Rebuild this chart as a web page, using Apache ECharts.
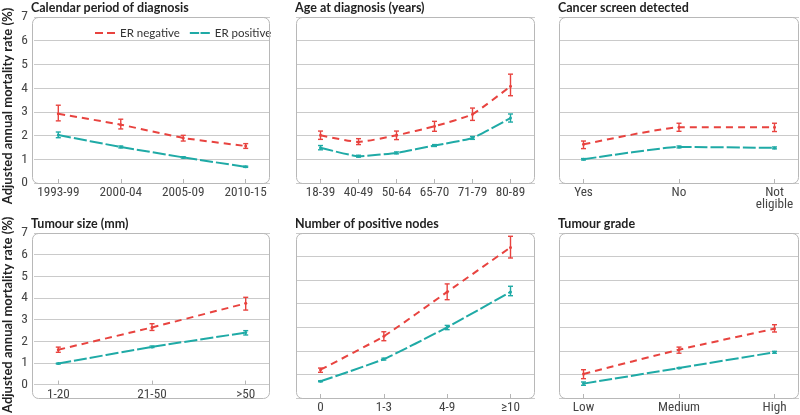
<!DOCTYPE html>
<html>
<head>
<meta charset="utf-8">
<script src="https://cdn.jsdelivr.net/npm/echarts@6/dist/echarts.min.js"></script>
<style>html,body{margin:0;padding:0;background:#fff}#c{width:800px;height:415px}</style>
</head>
<body>
<div id="c"></div>
<script>
// ---- data ----
const titles = ['Calendar period of diagnosis','Age at diagnosis (years)','Cancer screen detected','Tumour size (mm)','Number of positive nodes','Tumour grade'];
const yTitle = 'Adjusted annual mortality rate (%)';
const seriesNames = ['ER negative','ER positive'];

const periodCats = ['1993-99','2000-04','2005-09','2010-15'];
const periodNeg = [2.92, 2.46, 1.90, 1.56];
const periodNegLo = [2.62, 2.28, 1.77, 1.46];
const periodNegHi = [3.28, 2.69, 2.01, 1.66];
const periodPos = [2.02, 1.52, 1.08, 0.68];
const periodPosLo = [1.91, 1.48, 1.05, 0.66];
const periodPosHi = [2.15, 1.56, 1.11, 0.71];

const ageCats = ['18-39','40-49','50-64','65-70','71-79','80-89'];
const ageNeg = [2.01, 1.73, 2.01, 2.39, 2.90, 4.08];
const ageNegLo = [1.84, 1.62, 1.83, 2.18, 2.64, 3.68];
const ageNegHi = [2.19, 1.87, 2.19, 2.60, 3.16, 4.59];
const agePos = [1.49, 1.13, 1.27, 1.58, 1.90, 2.74];
const agePosLo = [1.40, 1.09, 1.23, 1.54, 1.84, 2.57];
const agePosHi = [1.58, 1.17, 1.31, 1.62, 1.96, 2.91];

const screenCats = ['Yes','No','Not\neligible'];
const screenNeg = [1.63, 2.35, 2.35];
const screenNegLo = [1.45, 2.18, 2.17];
const screenNegHi = [1.77, 2.52, 2.52];
const screenPos = [1.00, 1.52, 1.48];
const screenPosLo = [0.97, 1.48, 1.44];
const screenPosHi = [1.03, 1.56, 1.52];

const sizeCats = ['1-20','21-50','>50'];
const sizeNeg = [1.61, 2.64, 3.75];
const sizeNegLo = [1.49, 2.50, 3.44];
const sizeNegHi = [1.73, 2.81, 4.03];
const sizePos = [0.97, 1.74, 2.40];
const sizePosLo = [0.95, 1.71, 2.29];
const sizePosHi = [0.99, 1.78, 2.49];

const nodeCats = ['0','1-3','4-9','≥10'];
const nodeNeg = [1.20, 2.62, 4.50, 6.39];
const nodeNegLo = [1.09, 2.43, 4.17, 5.94];
const nodeNegHi = [1.27, 2.81, 4.84, 6.86];
const nodePos = [0.71, 1.65, 3.00, 4.50];
const nodePosLo = [0.69, 1.61, 2.90, 4.34];
const nodePosHi = [0.73, 1.69, 3.08, 4.74];

const gradeCats = ['Low','Medium','High'];
const gradeNeg = [1.02, 2.05, 2.94];
const gradeNegLo = [0.82, 1.90, 2.80];
const gradeNegHi = [1.20, 2.16, 3.11];
const gradePos = [0.61, 1.27, 1.94];
const gradePosLo = [0.54, 1.25, 1.90];
const gradePosHi = [0.68, 1.29, 1.98];

const yTicks = [0,1,2,3,4,5,6,7];

// ---- layout / style ----
const panels = [
  {cats: periodCats, neg:[periodNeg,periodNegLo,periodNegHi], pos:[periodPos,periodPosLo,periodPosHi]},
  {cats: ageCats, neg:[ageNeg,ageNegLo,ageNegHi], pos:[agePos,agePosLo,agePosHi]},
  {cats: screenCats, neg:[screenNeg,screenNegLo,screenNegHi], pos:[screenPos,screenPosLo,screenPosHi]},
  {cats: sizeCats, neg:[sizeNeg,sizeNegLo,sizeNegHi], pos:[sizePos,sizePosLo,sizePosHi]},
  {cats: nodeCats, neg:[nodeNeg,nodeNegLo,nodeNegHi], pos:[nodePos,nodePosLo,nodePosHi]},
  {cats: gradeCats, neg:[gradeNeg,gradeNegLo,gradeNegHi], pos:[gradePos,gradePosLo,gradePosHi]}
];
const colX = [[32,238],[296,239],[559,240]];
const rowY = [[17,166],[233,165]];
const PAD = 24.5;
const RED = '#e8433f', TEAL = '#1faaa6';
const FONT = "'Liberation Sans Narrow', 'Roboto Condensed', Lato, sans-serif";
const TFONT = "Lato, 'Open Sans', sans-serif";

const option = {
  animation: false,
  backgroundColor: '#fff',
  title: [], grid: [], xAxis: [], yAxis: [], series: [], graphic: [],
  legend: {
    left: 90, top: 22, itemWidth: 20, itemHeight: 3, itemGap: 10,
    textStyle: {fontFamily: TFONT, fontSize: 11.5, color: '#333'},
    data: [
      {name: seriesNames[0], icon: 'path://M0,0H8V2H0Z M12,0H20V2H12Z', itemStyle:{color:RED}},
      {name: seriesNames[1], icon: 'path://M0,0H10V2H0Z M11.5,0H21.5V2H11.5Z', itemStyle:{color:TEAL}}
    ]
  }
};

panels.forEach((p, i) => {
  const r = Math.floor(i / 3), c = i % 3;
  const [left, width] = colX[c];
  const [top, height] = rowY[r];
  const n = p.cats.length;
  const u = (width - 2 * PAD) / (n - 1);
  const ext = PAD / u;
  const idx = p.cats.map((_, k) => k);
  option.title.push({
    text: titles[i], left: left - 1, top: top - 16, padding: 0,
    textStyle: {fontFamily: TFONT, fontSize: 12.5, fontWeight: 'bold', color: '#222'}
  });
  option.grid.push({left: left, top: top, width: width, height: height, show: false});
  option.xAxis.push({
    type: 'value', gridIndex: i, min: -ext, max: n - 1 + ext,
    axisLine: {show: false},
    splitLine: {show: false},
    axisTick: {show: true, customValues: idx, length: 4, inside: true, lineStyle: {color: '#b5b5b5'}},
    axisLabel: {
      customValues: idx, margin: 4,
      formatter: v => p.cats[Math.round(v)],
      fontFamily: FONT, fontSize: 13.2, color: '#444', lineHeight: 11.5
    }
  });
  option.yAxis.push({
    type: 'value', gridIndex: i, min: 0, max: 7, interval: 1,
    axisLine: {show: false}, axisTick: {show: false},
    splitLine: {show: true, lineStyle: {color: '#cacaca', width: 1}},
    axisLabel: {show: c === 0, margin: 6, fontFamily: FONT, fontSize: 13.5, color: '#444',
      formatter: v => String(yTicks[v])},
    name: c === 0 ? yTitle : '',
    nameLocation: 'middle', nameGap: 20, nameRotate: 90,
    nameTextStyle: {fontFamily: TFONT, fontSize: 13, fontWeight: 'bold', color: '#222', padding: [0, 12, 0, 0]}
  });
  // rounded box
  option.graphic.push({
    type: 'rect', z: 100, silent: true,
    shape: {x: left + 0.5, y: top + 0.5, width: width - 1, height: height, r: 6},
    style: {fill: 'none', stroke: '#b8b8b8', lineWidth: 1}
  });
  const groups = [[p.neg, RED, [7,5], seriesNames[0]], [p.pos, TEAL, [13,3], seriesNames[1]]];
  groups.forEach(([d, col, dash, name]) => {
    option.series.push({
      type: 'line', name: name, xAxisIndex: i, yAxisIndex: i,
      data: d[0].map((v, k) => [k, v]),
      smooth: 0.15, symbol: 'circle', symbolSize: 3, showSymbol: true,
      itemStyle: {color: col},
      lineStyle: {color: col, width: 2, type: dash},
      z: 3
    });
    option.series.push({
      type: 'custom', name: name, xAxisIndex: i, yAxisIndex: i,
      data: d[1].map((lo, k) => [k, lo, d[2][k]]),
      encode: {x: 0, y: [1, 2]},
      z: 4,
      renderItem: (params, api) => {
        const x = api.value(0);
        const a = api.coord([x, api.value(1)]);
        const b = api.coord([x, api.value(2)]);
        const hw = 2.5;
        const st = {stroke: col, lineWidth: 1.4, fill: 'none'};
        return {type: 'group', children: [
          {type: 'line', shape: {x1: a[0], y1: a[1], x2: b[0], y2: b[1]}, style: st},
          {type: 'line', shape: {x1: a[0]-hw, y1: a[1], x2: a[0]+hw, y2: a[1]}, style: st},
          {type: 'line', shape: {x1: b[0]-hw, y1: b[1], x2: b[0]+hw, y2: b[1]}, style: st}
        ]};
      }
    });
  });
});

const chart = echarts.init(document.getElementById('c'), null, {renderer: 'canvas'});
chart.setOption(option);
</script>
</body>
</html>
